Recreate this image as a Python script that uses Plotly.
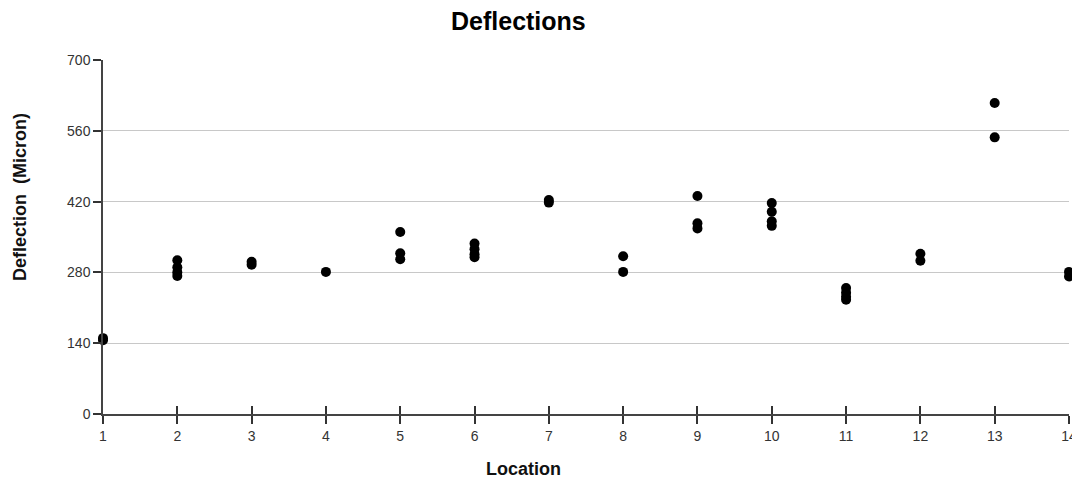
import plotly.graph_objects as go

# Data
locations = [1, 1,
             2, 2, 2, 2,
             3, 3,
             4,
             5, 5, 5,
             6, 6, 6, 6,
             7, 7,
             8, 8,
             9, 9, 9,
             10, 10, 10, 10,
             11, 11, 11, 11,
             12, 12,
             13, 13,
             14, 14]
deflections = [150, 146,
               304, 290, 280, 273,
               301, 295,
               281,
               360, 318, 306,
               337, 326, 316, 310,
               423, 418,
               312, 281,
               431, 377, 367,
               417, 400, 381, 372,
               249, 240, 232, 226,
               317, 303,
               615, 547,
               281, 272]

x_ticks = list(range(1, 15))
y_ticks = [0, 140, 280, 420, 560, 700]

# page has an 8px body margin; figure placed at page px (8, 8)
OFF = 8
W, H = 1080 - OFF, 482 - OFF
ML, MT = 103 - OFF, 60 - OFF
MR = OFF + W - 1069
MB = OFF + H - 414

fig = go.Figure()
fig.add_trace(go.Scatter(
    x=locations, y=deflections, mode="markers",
    marker=dict(color="black", size=10, line=dict(width=0)),
    showlegend=False, cliponaxis=False,
))
# invisible trace for overlay axis (inside half of crossing x ticks)
fig.add_trace(go.Scatter(x=[1, 14], y=[0, 0], xaxis="x2", mode="markers",
                         marker=dict(opacity=0), showlegend=False, hoverinfo="skip"))

font = "Liberation Sans, Arial, sans-serif"

plot_w = W - ML - MR
plot_h = H - MT - MB
def px_to_paper_x(px):
    return (px - OFF - ML) / plot_w
def px_to_paper_y(py):
    return (H - MB - (py - OFF)) / plot_h

fig.update_layout(
    width=W, height=H,
    paper_bgcolor="white", plot_bgcolor="white",
    margin=dict(l=ML, r=MR, t=MT, b=MB, autoexpand=False),
    font=dict(family=font, size=14, color="#333"),
    xaxis=dict(range=[1, 14], tickvals=x_ticks, ticks="outside", ticklen=8,
               tickcolor="#333", tickwidth=1.5, showline=True, linecolor="#444",
               linewidth=1.5, showgrid=False, zeroline=False,
               ticklabeloverflow="allow",
               tickfont=dict(size=14, color="#333")),
    xaxis2=dict(range=[1, 14], tickvals=x_ticks, ticks="inside", ticklen=8,
                tickcolor="#333", tickwidth=1.5, overlaying="x", side="bottom",
                anchor="y", showticklabels=False, showgrid=False, zeroline=False,
                showline=False),
    yaxis=dict(range=[0, 700], tickvals=y_ticks, ticks="outside", ticklen=8,
               tickcolor="#333", tickwidth=1.5, showline=True, linecolor="#444",
               linewidth=1.5, showgrid=True, gridcolor="#c8c8c8", gridwidth=1,
               zeroline=False, tickfont=dict(size=14, color="#333")),
    annotations=[
        dict(text="<b>Deflections</b>", x=px_to_paper_x(518), y=px_to_paper_y(21),
             xref="paper", yref="paper",
             showarrow=False, font=dict(size=25, color="black", family=font),
             xanchor="center", yanchor="middle"),
        dict(text="<b>Location</b>", x=px_to_paper_x(523), y=px_to_paper_y(469),
             xref="paper", yref="paper",
             showarrow=False, font=dict(size=18, color="#111", family=font),
             xanchor="center", yanchor="middle"),
        dict(text="<b>Deflection  (Micron)</b>", x=px_to_paper_x(20), y=px_to_paper_y(197),
             xref="paper", yref="paper",
             showarrow=False, textangle=-90, font=dict(size=18, color="#111", family=font),
             xanchor="center", yanchor="middle"),
    ],
)

fig.write_html("out.html")
